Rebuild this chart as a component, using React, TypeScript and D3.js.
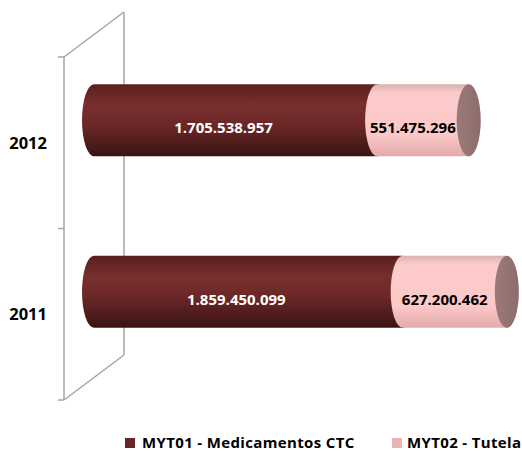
import React from "react";
import * as d3 from "d3";

const categories = ["2012", "2011"];
const medicamentos = [1705538957, 1859450099];
const tutela = [551475296, 627200462];
const seriesNames = ["MYT01 - Medicamentos CTC", "MYT02 - Tutela"];

const W = 522;
const H = 451;
const frontX = 64;
const plotTop = 57;
const plotBottom = 400;
const depthX = 60;
const depthY = -45;
const rx = 12;
const FONT = "'Open Sans', 'DejaVu Sans', sans-serif";

const fmt = d3
  .formatLocale({ decimal: ",", thousands: ".", grouping: [3], currency: ["", ""] })
  .format(",d");

export default function App() {
  const y = d3.scaleBand<string>().domain(categories).range([plotTop, plotBottom]).padding(0);
  const bw = y.bandwidth();
  const barH = bw * 0.42;
  const x = d3
    .scaleLinear()
    .domain([0, 2.5e9])
    .range([frontX + depthX / 2, frontX + depthX / 2 + 415]);

  const ticks = [plotTop, ...categories.map((c) => (y(c) as number) + bw)];

  const bodyPath = (xa: number, xb: number, yt: number, yb: number) => {
    const ry = (yb - yt) / 2;
    return `M${xa},${yt} L${xb},${yt} A${rx},${ry} 0 0 1 ${xb},${yb} L${xa},${yb} A${rx},${ry} 0 0 1 ${xa},${yt} Z`;
  };

  const axisColor = "#a6a6a6";

  return (
    <svg width={W} height={H} style={{ display: "block", position: "absolute", left: 0, top: 0 }}>
      <defs>
        <linearGradient id="gDark" x1="0" y1="0" x2="0" y2="1">
          <stop offset="0" stopColor="#5a1f1f" />
          <stop offset="0.3" stopColor="#7a2f2f" />
          <stop offset="0.6" stopColor="#682626" />
          <stop offset="1" stopColor="#3a1313" />
        </linearGradient>
        <linearGradient id="gPink" x1="0" y1="0" x2="0" y2="1">
          <stop offset="0" stopColor="#d9b0b0" />
          <stop offset="0.12" stopColor="#fccccc" />
          <stop offset="0.7" stopColor="#fcc8c8" />
          <stop offset="1" stopColor="#e2aaaa" />
        </linearGradient>
        <linearGradient id="gCap" x1="0" y1="0" x2="1" y2="0">
          <stop offset="0" stopColor="#9c7a7a" />
          <stop offset="1" stopColor="#8c6c6c" />
        </linearGradient>
      </defs>

      {/* back wall / axis frame */}
      <g stroke={axisColor} strokeWidth={1.5} fill="none">
        <line x1={frontX} y1={plotTop} x2={frontX} y2={plotBottom} />
        <line x1={frontX + depthX} y1={plotTop + depthY} x2={frontX + depthX} y2={plotBottom + depthY} />
        <line x1={frontX} y1={plotTop} x2={frontX + depthX} y2={plotTop + depthY} />
        <line x1={frontX} y1={plotBottom} x2={frontX + depthX} y2={plotBottom + depthY} />
        {ticks.map((t, i) => (
          <line key={i} x1={frontX - 6} y1={t} x2={frontX} y2={t} />
        ))}
      </g>

      {/* category labels */}
      {categories.map((c) => (
        <text
          key={c}
          x={47}
          y={(y(c) as number) + bw / 2 + 6}
          textAnchor="end"
          fontFamily={FONT}
          fontWeight="bold"
          fontSize={16.5}
          fill="#000"
        >
          {c}
        </text>
      ))}

      {/* bars */}
      {categories.map((c, i) => {
        const cy = (y(c) as number) + bw / 2 + depthY / 2;
        const yt = cy - barH / 2;
        const yb = cy + barH / 2;
        const x0 = x(0);
        const x1 = x(medicamentos[i]);
        const x2 = x(medicamentos[i] + tutela[i]);
        return (
          <g key={c}>
            <path d={bodyPath(x0, x1, yt, yb)} fill="url(#gDark)" />
            <path d={bodyPath(x1, x2, yt, yb)} fill="url(#gPink)" />
            <ellipse cx={x2} cy={cy} rx={rx} ry={barH / 2} fill="url(#gCap)" />
            <text
              x={(x0 + x1) / 2 - rx}
              y={cy + 13}
              textAnchor="middle"
              fontFamily={FONT}
              fontWeight="bold"
              fontSize={15}
              fill="#fff"
            >
              {fmt(medicamentos[i])}
            </text>
            <text
              x={(x1 + x2) / 2 - rx + 2}
              y={cy + 13}
              textAnchor="middle"
              fontFamily={FONT}
              fontWeight="bold"
              fontSize={15}
              fill="#000"
            >
              {fmt(tutela[i])}
            </text>
          </g>
        );
      })}

      {/* legend */}
      <g fontFamily={FONT} fontWeight="bold" fontSize={15} fill="#000" letterSpacing={0.35}>
        <rect x={125} y={438} width={10} height={10} fill="#6b2424" />
        <text x={142} y={447.5}>{seriesNames[0]}</text>
        <rect x={392} y={438} width={10} height={10} fill="#e8b4b4" />
        <text x={407} y={447.5}>{seriesNames[1]}</text>
      </g>
    </svg>
  );
}
